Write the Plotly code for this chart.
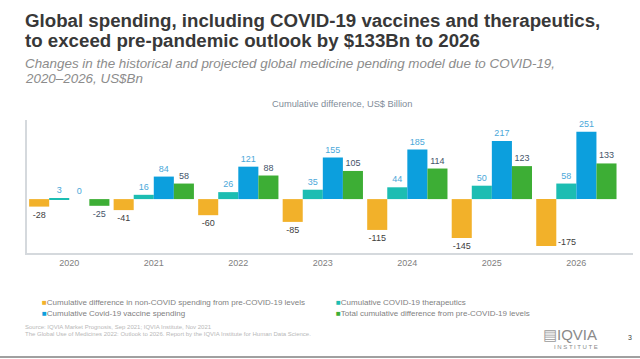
import plotly.graph_objects as go

years = ["2020", "2021", "2022", "2023", "2024", "2025", "2026"]
non_covid = [-28, -41, -60, -85, -115, -145, -175]
therapeutics = [3, 16, 26, 35, 44, 50, 58]
vaccines = [0, 84, 121, 155, 185, 217, 251]
total = [-25, 58, 88, 105, 114, 123, 133]

series_names = [
    "Cumulative difference in non-COVID spending from pre-COVID-19 levels",
    "Cumulative COVID-19 therapeutics",
    "Cumulative Covid-19 vaccine spending",
    "Total cumulative difference from pre-COVID-19 levels",
]
colors = ["#F2B12A", "#1CBDB2", "#0C9FDD", "#3DAE35"]
label_colors = ["#404040", "#4BA8D9", "#4BA8D9", "#44546A"]

FONT = "Liberation Sans, Arial, sans-serif"

W, H = 640, 359
L, R, T, B = 27, 7, 120, 106
PW, PH = W - L - R, H - T - B


def px(x):
    return (x - L) / PW


def py(y):
    return (H - B - y) / PH


fig = go.Figure()
all_vals = [non_covid, therapeutics, vaccines, total]
for i, (name, vals) in enumerate(zip(series_names, all_vals)):
    positions = ["outside"] * len(vals)
    if i == 0:
        positions[-1] = "none"
    fig.add_trace(go.Bar(
        x=years, y=vals, name=name,
        marker=dict(color=colors[i], line=dict(width=0)),
        text=[str(v) for v in vals],
        textposition=positions,
        textfont=dict(family=FONT, size=9, color=label_colors[i]),
        cliponaxis=False,
        showlegend=False,
    ))

# label of last orange bar placed to the right of its bottom
last_idx = len(years) - 1
fig.add_annotation(x=last_idx, y=non_covid[last_idx], text=str(non_covid[last_idx]),
                   xref="x", yref="y",
                   showarrow=False, xanchor="left", yanchor="middle",
                   xshift=-20, yshift=4,
                   font=dict(family=FONT, size=9, color=label_colors[0]))

fig.update_layout(
    width=W, height=H,
    margin=dict(l=L, r=R, t=T, b=B),
    paper_bgcolor="white", plot_bgcolor="white",
    barmode="group", bargap=0.05, bargroupgap=0,
    showlegend=False,
    xaxis=dict(type="category", range=[-0.5, 6.67], showline=True, linecolor="#D5D9DD", linewidth=2,
               showgrid=False, ticks="", tickfont=dict(family=FONT, size=9, color="#808080"),
               zeroline=False),
    yaxis=dict(range=[-201, 295], showline=True, linecolor="#D5D9DD", linewidth=2,
               showgrid=False, showticklabels=False, zeroline=False, ticks=""),
)


def note(x, y, text, size, color, xanchor="left", yanchor="middle", align="left", bold=False):
    fig.add_annotation(xref="paper", yref="paper", x=px(x), y=py(y),
                       xanchor=xanchor, yanchor=yanchor, align=align, showarrow=False,
                       text=text,
                       font=dict(family=FONT, size=size, color=color,
                                 weight="bold" if bold else "normal"))


# title
note(23, 20.5, "Global spending, including COVID-19 vaccines and therapeutics,", 18.7, "#383838", bold=True)
note(23, 40, "to exceed pre-pandemic outlook by $133Bn to 2026", 18.7, "#383838", bold=True)
# subtitle
note(23, 63.5, "<i>Changes in the historical and projected global medicine pending model due to COVID-19,</i>",
     13.4, "#8C8C8C")
note(23, 78.5, "<i>2020–2026, US$Bn</i>", 13.4, "#8C8C8C")
# chart title
note(342, 104, "Cumulative difference, US$ Billion", 9.3, "#7F8C99", xanchor="center")

# legend as annotations
leg_slots = [(40, 302), (334, 302), (40, 313), (334, 313)]
for i in range(4):
    x0, y0 = leg_slots[i]
    note(x0, y0, f"<span style='color:{colors[i]}'>■</span>{series_names[i]}", 8, "#7F7F7F")

# source
note(23, 327, "Source: IQVIA Market Prognosis, Sep 2021; IQVIA Institute, Nov 2021", 6, "#B8B8B8")
note(23, 334, "The Global Use of Medicines 2022: Outlook to 2026. Report by the IQVIA Institute for Human Data Science.",
     6, "#B8B8B8")

# logo
note(570, 334, "<span style='color:#9A9A9A'>▤</span>IQVIA", 15, "#8A8A8A", xanchor="center")
note(576, 347, "I N S T I T U T E", 6, "#8A8A8A", xanchor="center")
note(630, 337, "3", 7, "#404040", xanchor="center")

fig.add_shape(type="line", xref="paper", yref="paper", x0=px(0), x1=px(640),
              y0=py(357), y1=py(357), line=dict(color="#A0A0A0", width=2))

fig.write_html("out.html", config={"displayModeBar": False},
               post_script="document.body.style.margin='0';document.body.style.padding='0';")
